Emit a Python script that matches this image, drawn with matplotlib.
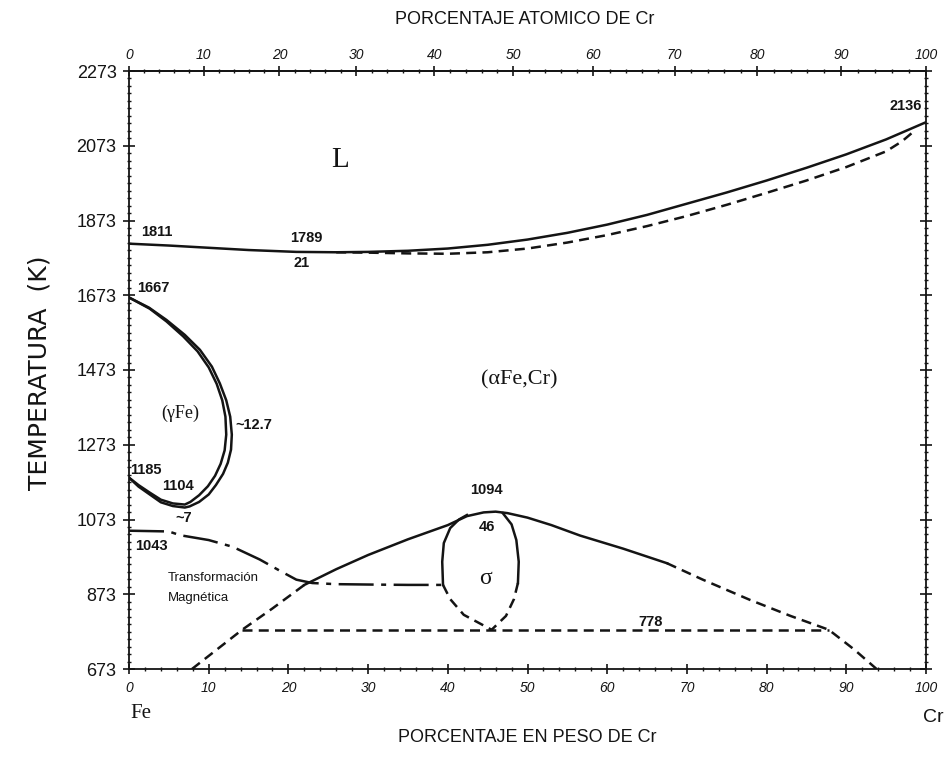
import numpy as np
import matplotlib
matplotlib.use("Agg")
import matplotlib.pyplot as plt

# Fe-Cr phase diagram (weight % Cr vs temperature in K)

INK = "#141414"
SANS = ["Liberation Sans", "DejaVu Sans"]
SERIF = ["Liberation Serif", "DejaVu Serif"]

# liquidus (solid line)
liq_wt = [0, 5, 10, 15, 21, 26, 30, 35, 40, 45, 50, 55, 60, 65, 70, 75, 80, 85, 90, 95, 100]
liq_T = [1811, 1806, 1800, 1794, 1789, 1788, 1789, 1792, 1798, 1808, 1822, 1840,
         1862, 1888, 1918, 1948, 1980, 2014, 2050, 2090, 2136]

# solidus (dashed line)
sol_wt = [26, 30, 35, 40, 45, 50, 55, 60, 65, 70, 75, 80, 85, 90, 95, 97, 98.5]
sol_T = [1788, 1787, 1785, 1784, 1788, 1798, 1814, 1834, 1858, 1885, 1915, 1947,
         1980, 2016, 2058, 2085, 2112]

# gamma loop, outer and inner boundaries
gam_out_wt = [0, 2.5, 4.7, 7.0, 8.9, 10.4, 11.4, 12.2, 12.7, 12.9, 12.8, 12.4, 11.8,
              10.9, 10.0, 8.8, 7.6, 7.0, 5.5, 4.0, 2.6, 1.2, 0]
gam_out_T = [1667, 1640, 1607, 1567, 1527, 1482, 1437, 1392, 1348, 1300, 1260, 1225,
             1195, 1165, 1140, 1120, 1108, 1105, 1109, 1119, 1140, 1161, 1185]
gam_in_wt = [0, 2.6, 4.7, 6.8, 8.6, 10.0, 11.0, 11.7, 12.1, 12.2, 12.0, 11.5, 10.8,
             9.9, 8.8, 7.7, 7.0, 5.5, 4.0, 2.6, 1.2, 0]
gam_in_T = [1667, 1637, 1603, 1563, 1523, 1480, 1436, 1392, 1348, 1300, 1258, 1222,
            1190, 1162, 1138, 1120, 1113, 1116, 1126, 1145, 1165, 1185]

# magnetic transformation (Curie line)
mag_wt = [0, 5, 6.4, 10, 13, 16.4, 19, 21, 23, 26, 30, 35, 39.4]
mag_T = [1043, 1041, 1031, 1018, 1000, 966, 935, 912, 903, 900, 899, 898, 898]

# sigma / alpha boundary
dome_l_wt = [7.9, 14.2, 18, 22]
dome_l_T = [673, 778, 835, 898]
dome_wt = [22, 26, 30, 35, 40, 42.4, 44.5, 46, 47.5, 50, 53, 56.6, 62, 67.5]
dome_T = [898, 940, 978, 1020, 1058, 1082, 1092, 1094, 1090, 1078, 1058, 1030, 995, 956]
dome_r_wt = [67.5, 72, 77.9, 83, 87.8, 91, 93.8]
dome_r_T = [956, 912, 858, 815, 778, 725, 673]

# sigma field
sig_l_wt = [39.4, 39.3, 39.5, 40.3, 41.4, 42.4]
sig_l_T = [898, 960, 1010, 1050, 1073, 1085]
sig_r_wt = [46.9, 48.0, 48.6, 48.9, 48.8]
sig_r_T = [1090, 1060, 1018, 960, 903]
sig_ld_wt = [39.4, 40.3, 42.0, 45.5]
sig_ld_T = [898, 860, 818, 778]
sig_rd_wt = [48.8, 48.3, 47.3, 45.5]
sig_rd_T = [903, 860, 815, 778]

# eutectoid line
eut_wt = [14.2, 87.8]
eut_T = [778, 778]

y_ticks = [673, 873, 1073, 1273, 1473, 1673, 1873, 2073, 2273]
x_ticks = list(range(0, 101, 10))
at_ticks = list(range(0, 101, 10))

M_FE, M_CR = 55.85, 52.00


def wt_to_at(w):
    w = np.asarray(w, dtype=float)
    a = w / M_CR
    b = (100 - w) / M_FE
    return 100 * a / (a + b)


def at_to_wt(x):
    x = np.asarray(x, dtype=float)
    a = x * M_CR
    b = (100 - x) * M_FE
    return 100 * a / (a + b)


fig = plt.figure(figsize=(9.49, 7.58), dpi=100)
ax = fig.add_axes([129 / 949, 89 / 758, 797 / 949, 598 / 758])
ax.set_xlim(0, 100)
ax.set_ylim(673, 2273)

lw = 1.8
dash = (0, (4, 2.5))
ax.plot(liq_wt, liq_T, color=INK, lw=lw)
ax.plot(sol_wt, sol_T, color=INK, lw=lw, linestyle=dash)
ax.plot(gam_out_wt, gam_out_T, color=INK, lw=lw)
ax.plot(gam_in_wt, gam_in_T, color=INK, lw=lw)
ax.plot(mag_wt, mag_T, color=INK, lw=lw, linestyle=(0, (14, 3, 2, 3)))
ax.plot(dome_l_wt, dome_l_T, color=INK, lw=lw, linestyle=dash)
ax.plot(dome_wt, dome_T, color=INK, lw=lw)
ax.plot(dome_r_wt, dome_r_T, color=INK, lw=lw, linestyle=dash)
ax.plot(sig_l_wt, sig_l_T, color=INK, lw=lw)
ax.plot(sig_r_wt, sig_r_T, color=INK, lw=lw)
ax.plot(sig_ld_wt, sig_ld_T, color=INK, lw=lw, linestyle=dash)
ax.plot(sig_rd_wt, sig_rd_T, color=INK, lw=lw, linestyle=dash)
ax.plot(eut_wt, eut_T, color=INK, lw=lw, linestyle=dash)

# axes frame and ticks
for s in ax.spines.values():
    s.set_color(INK)
    s.set_linewidth(1.3)
ax.set_yticks(y_ticks)
ax.set_yticks(np.arange(673, 2274, 20), minor=True)
ax.set_xticks(x_ticks)
ax.set_xticks(np.arange(0, 101, 2), minor=True)
ax.tick_params(axis="y", which="major", direction="inout", length=8, width=1.2,
               colors=INK, right=True, pad=5)
ax.tick_params(axis="y", which="minor", direction="inout", length=3, width=1.0,
               colors=INK, right=True)
ax.tick_params(axis="x", which="major", direction="inout", length=7, width=1.2,
               colors=INK, pad=5)
ax.tick_params(axis="x", which="minor", direction="inout", length=3, width=1.0,
               colors=INK)
for lab in ax.get_yticklabels():
    lab.set_family(SANS)
    lab.set_fontsize(13)
for lab in ax.get_xticklabels():
    lab.set_family(SANS)
    lab.set_fontsize(10)
    lab.set_style("italic")

top = ax.secondary_xaxis("top", functions=(wt_to_at, at_to_wt))
top.set_xticks(at_ticks)
top.set_xticks(np.arange(0, 101, 2), minor=True)
top.tick_params(which="major", direction="inout", length=7, width=1.2, colors=INK, pad=3)
top.tick_params(which="minor", direction="inout", length=3, width=1.0, colors=INK)
top.spines["top"].set_linewidth(1.3)
top.spines["top"].set_color(INK)
for lab in top.get_xticklabels():
    lab.set_family(SANS)
    lab.set_fontsize(10)
    lab.set_style("italic")

# phase labels and key temperatures
num = dict(color=INK, fontsize=10.5, fontweight="bold", family=SANS)
ax.text(26.5, 2035, "L", color=INK, fontsize=21, family=SERIF, ha="center", va="center")
ax.text(1.5, 1842, "1811", ha="left", va="center", **num)
ax.text(22.3, 1826, "1789", ha="center", va="center", **num)
ax.text(21.7, 1760, "21", ha="center", va="center", **num)
ax.text(97.4, 2180, "2136", ha="center", va="center", **num)
ax.text(1.0, 1692, "1667", ha="left", va="center", **num)
ax.text(6.4, 1358, "(γFe)", color=INK, fontsize=13, family=SERIF, ha="center", va="center")
ax.text(13.4, 1326, "~12.7", ha="left", va="center", **num)
ax.text(0.2, 1205, "1185", ha="left", va="center", **num)
ax.text(6.1, 1163, "1104", ha="center", va="center", **num)
ax.text(6.8, 1077, "~7", ha="center", va="center", **num)
ax.text(0.8, 1002, "1043", ha="left", va="center", **num)
ax.text(4.9, 916, "Transformación", color=INK, fontsize=9.5, family=SANS,
        ha="left", va="center")
ax.text(4.9, 863, "Magnética", color=INK, fontsize=9.5, family=SANS,
        ha="left", va="center")
ax.text(49, 1446, "(αFe,Cr)", color=INK, fontsize=16, family=SERIF,
        ha="center", va="center")
ax.text(44.9, 1152, "1094", ha="center", va="center", **num)
ax.text(44.9, 1052, "46", ha="center", va="center", **num)
ax.text(44.7, 916, "σ", color=INK, fontsize=17, family=SERIF, ha="center", va="center")
ax.text(65.4, 800, "778", ha="center", va="center", **num)

fig.text(141 / 949, 1 - 713 / 758, "Fe", color=INK, fontsize=15, family=SERIF,
         ha="center", va="center")
fig.text(933 / 949, 1 - 718 / 758, "Cr", color=INK, fontsize=14, family=SANS,
         ha="center", va="center")
fig.text(525 / 949, 1 - 20 / 758, "PORCENTAJE ATOMICO DE Cr", color=INK, fontsize=13,
         family=SANS, ha="center", va="center")
fig.text(527 / 949, 1 - 738 / 758, "PORCENTAJE EN PESO DE Cr", color=INK, fontsize=13,
         family=SANS, ha="center", va="center")
fig.text(40 / 949, 1 - 373 / 758, "TEMPERATURA  (K)", color=INK, fontsize=18,
         family=["DejaVu Sans"], ha="center", va="center", rotation=90)

fig.savefig("out.png", dpi=100)
